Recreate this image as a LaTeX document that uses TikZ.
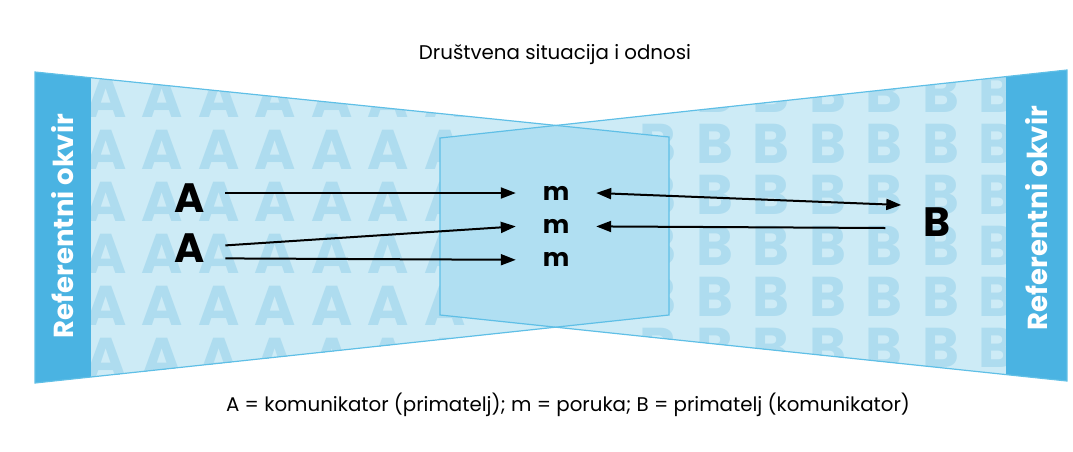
\documentclass[tikz,border=0pt]{standalone}
\usepackage{fontspec}
\setmainfont{Poppins}
\usetikzlibrary{arrows.meta,positioning}
\definecolor{panelfill}{HTML}{CDEBF6}
\definecolor{overlapfill}{HTML}{B0DFF2}
\definecolor{letterfill}{HTML}{AEDCEF}
\definecolor{paneledge}{HTML}{5FBFE6}
\definecolor{bandfill}{HTML}{4AB3E2}

\begin{document}
\begin{tikzpicture}[
	x=1pt, y=-1pt,
	node distance=14pt,
	>={Triangle[length=15pt,width=11pt]},
	arr/.style={line width=2pt},
	edge/.style={draw=paneledge, line width=1.2pt},
	wmark/.style={text=letterfill, inner sep=0pt, font=\fontsize{56}{56}\selectfont\bfseries},
	sender/.style={inner sep=0pt, minimum height=36pt, font=\fontsize{41}{41}\selectfont\bfseries},
	msg/.style={inner sep=0pt, minimum width=80pt, minimum height=20pt, font=\fontsize{25}{25}\selectfont\bfseries},
	bandtext/.style={text=white, rotate=90, font=\fontsize{27.5}{27.5}\selectfont\bfseries},
	caption/.style={font=\fontsize{19.8}{22}\selectfont}
]
\useasboundingbox (0,0) rectangle (1073,451);

\coordinate (l1) at (35,72);
\coordinate (l2) at (669,137);
\coordinate (l3) at (669,315);
\coordinate (l4) at (35,383);
\coordinate (r1) at (1067,70);
\coordinate (r2) at (440,138);
\coordinate (r3) at (440,315);
\coordinate (r4) at (1067,381);

\fill[panelfill] (l1) -- (l2) -- (l3) -- (l4) -- cycle;
\fill[panelfill] (r1) -- (r2) -- (r3) -- (r4) -- cycle;

\begin{scope}
\clip (l1) -- (l2) -- (l3) -- (l4) -- cycle;
\foreach \i in {0,...,6}
	\foreach \j in {0,...,5}
		\node[wmark] (wa\i\j) at (106+56.5*\i, 98+52*\j) {A};
\fill[bandfill] (35,60) rectangle (91,400);
\end{scope}

\begin{scope}
\clip (r1) -- (r2) -- (r3) -- (r4) -- cycle;
\foreach \i in {0,...,6}
	\foreach \j in {0,...,5}
		\node[wmark] (wb\i\j) at (997-56.5*\i, 93+51*\j) {B};
\fill[bandfill] (1006,60) rectangle (1067,400);
\end{scope}

\begin{scope}
\clip (l1) -- (l2) -- (l3) -- (l4) -- cycle;
\fill[overlapfill] (r1) -- (r2) -- (r3) -- (r4) -- cycle;
\end{scope}

\draw[edge] (l1) -- (l2) -- (l3) -- (l4) -- cycle;
\draw[edge] (r1) -- (r2) -- (r3) -- (r4) -- cycle;

\node[bandtext] (leftframe) at (63,226) {Referentni okvir};
\node[bandtext] (rightframe) at (1037,218) {Referentni okvir};

\node[caption] (title) at (555,55) {Društvena situacija i odnosi};
\node[caption] (legend) at (568,405) {A = komunikator (primatelj); m = poruka; B = primatelj (komunikator)};

\node[sender] (a1) at (190,198) {A};
\node[sender, below=of a1] (a2) {A};
\node[msg] (m1) at (556,193) {m};
\node[msg, below=13pt of m1] (m2) {m};
\node[msg, below=13pt of m2] (m3) {m};
\node[sender] (b) at (937,222) {B};

\draw[arr, ->] ([xshift=20pt,yshift=5pt]a1.east) -- (m1.west);
\draw[arr, ->] ([xshift=20pt,yshift=3pt]a2.east) -- (m2.west);
\draw[arr, ->] ([xshift=20pt,yshift=-10pt]a2.east) -- (m3.west);
\draw[arr, <->] (m1.east) -- ([xshift=-22pt,yshift=17pt]b.west);
\draw[arr, ->] ([xshift=-38pt,yshift=-6pt]b.west) -- (m2.east);
\end{tikzpicture}
\end{document}
